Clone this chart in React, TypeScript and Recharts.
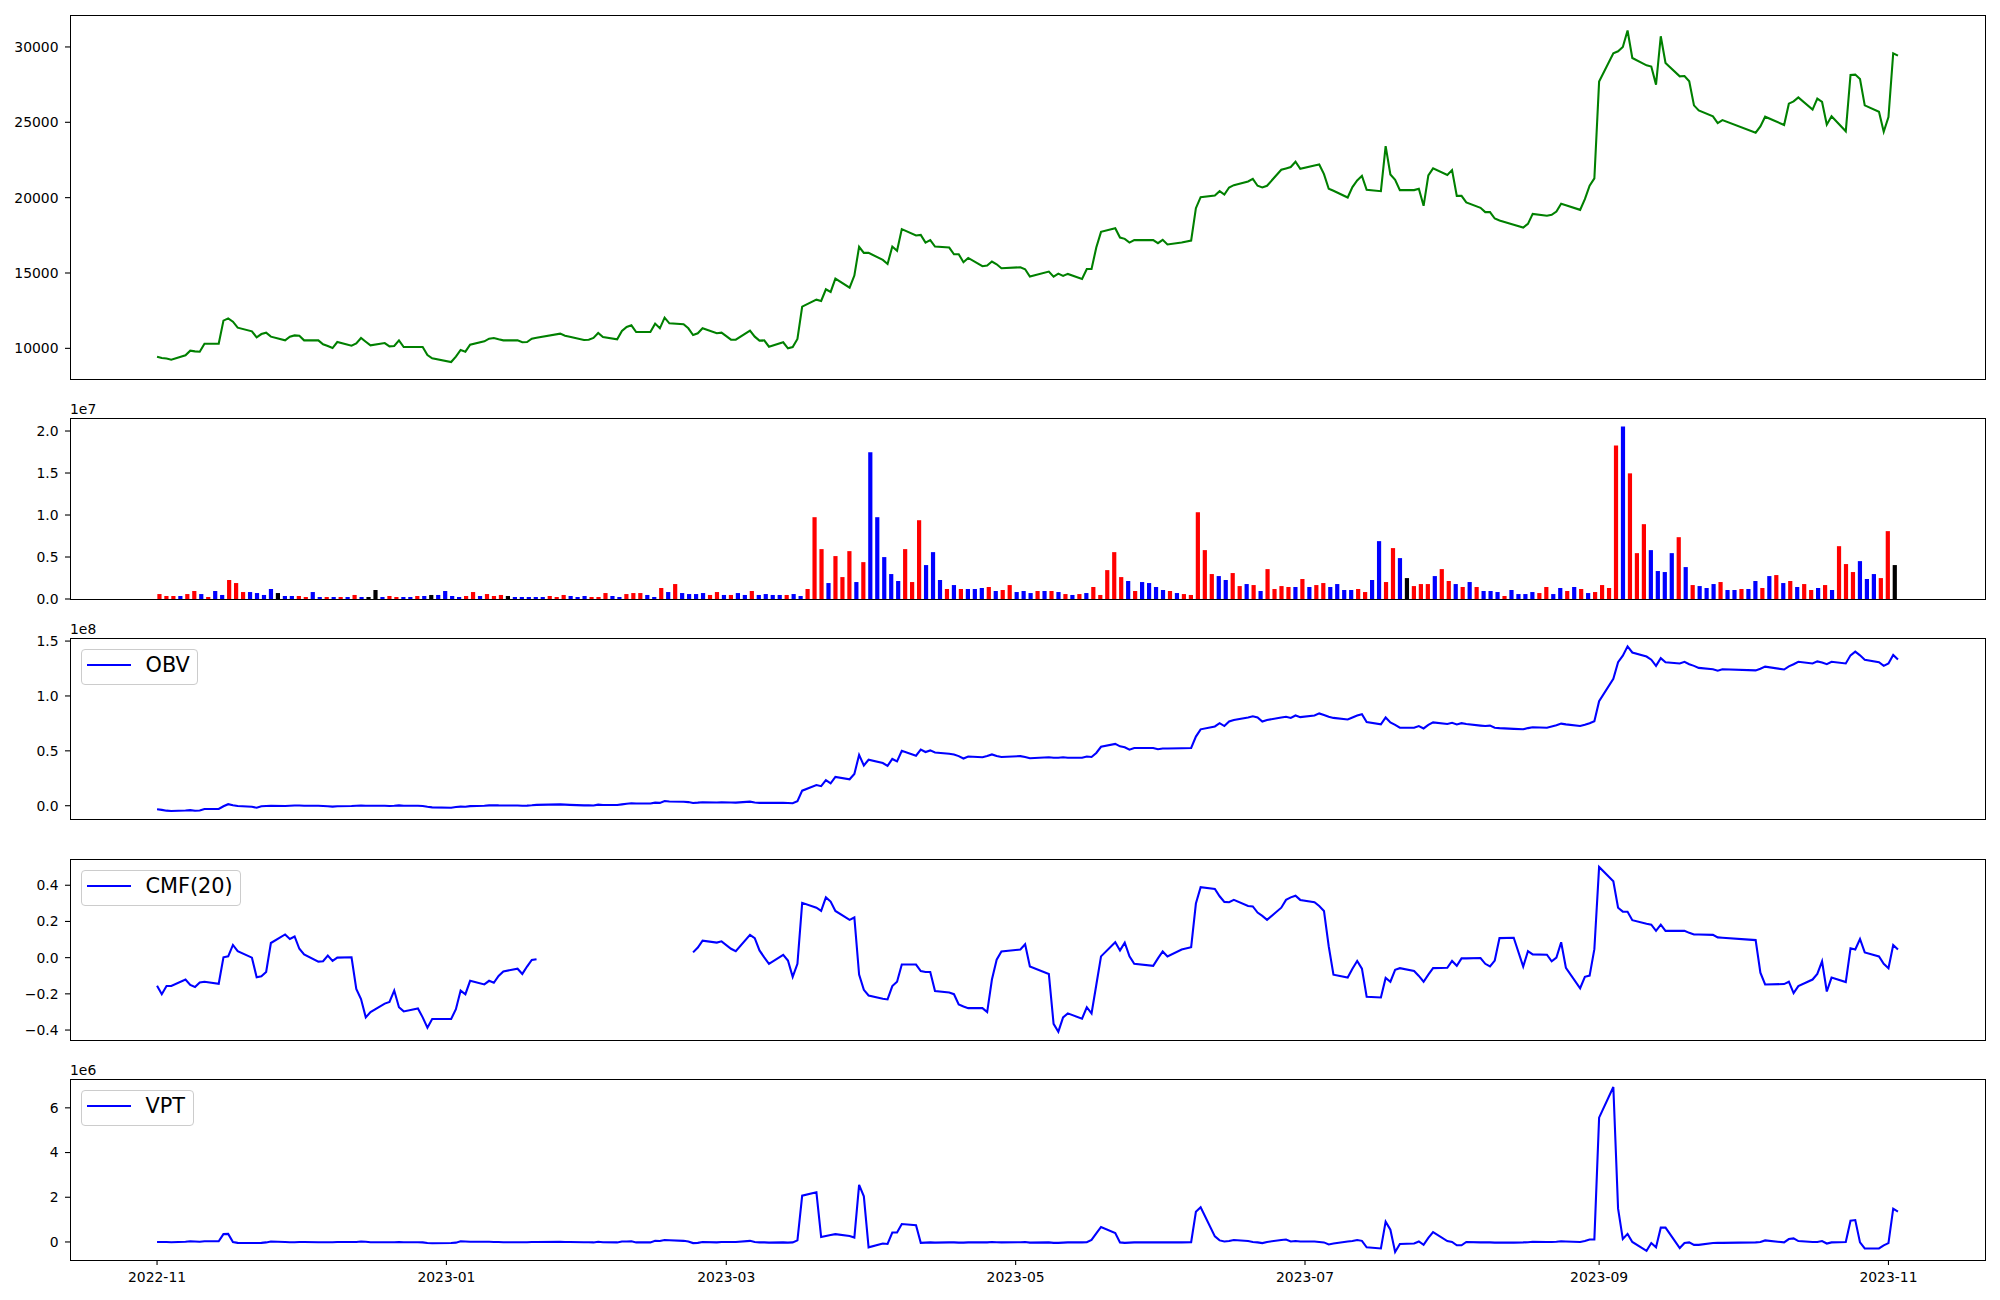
import { Bar, Cell, ComposedChart, Line, LineChart, XAxis, YAxis } from "recharts";

// trading calendar: weekdays from 2022-11-01 minus exchange holidays
const START = Date.UTC(2022, 10, 1);
const DAY_MS = 86400000;
const LAST_DAY = 367;
const HOLIDAYS = [
  "2022-12-30", "2023-01-23", "2023-01-24", "2023-03-01", "2023-05-01", "2023-05-05", "2023-05-29",
  "2023-06-06", "2023-08-15", "2023-09-28", "2023-09-29", "2023-10-02", "2023-10-03", "2023-10-09",
];
const MONTH_TICKS = ["2022-11", "2023-01", "2023-03", "2023-05", "2023-07", "2023-09", "2023-11"];

const PRICE = [
  9446, 9360, 9330, 9250, 9535, 9845, 9800, 9780, 10310, 10310,
  11840, 11990, 11770, 11370, 11130, 10730, 10950, 11040, 10775, 10530,
  10775, 10860, 10840, 10530, 10530, 10265, 10155, 10020, 10420, 10180,
  10330, 10690, 10440, 10200, 10350, 10130, 10155, 10530, 10090, 10090,
  10090, 9560, 9335, 9090, 9445, 9890, 9780, 10245, 10465, 10640,
  10690, 10600, 10530, 10530, 10400, 10420, 10640, 10710, 10975, 10840,
  10775, 10550, 10575, 10690, 11020, 10750, 10600, 11150, 11420, 11530,
  11085, 11085, 11640, 11330, 12040, 11660, 11600, 11330, 10885, 11000,
  11330, 11000, 11040, 10575, 10575, 11175, 10775, 10510, 10530, 10110,
  10400, 10000, 10090, 10620, 12770, 13230, 13145, 13920, 13745, 14630,
  14030, 14830, 16735, 16335, 16335, 15870, 15600, 16755, 16470, 17910,
  17490, 17530, 17020, 17180, 16755, 16690, 16245, 16245, 15715, 16000,
  15450, 15495, 15760, 15580, 15315, 15380, 15250, 14760, 15095, 14760,
  14960, 14805, 14940, 14610, 15270, 15270, 16690, 17730, 17975, 17355,
  17265, 17020, 17180, 17180, 16980, 17200, 16890, 17020, 17155, 19300,
  20035, 20145, 20430, 20210, 20675, 20830, 21075, 21250, 20790, 20675,
  20790, 21850, 21940, 22030, 22380, 21915, 22140, 22205, 21560, 20590,
  20455, 20010, 20700, 21140, 21450, 20520, 20430, 23420, 21540, 21185,
  20500, 20500, 20590, 19460, 21475, 21940, 21500, 21830, 20120, 20120,
  19680, 19325, 19040, 19040, 18615, 18480, 18195, 18020, 18260, 18925,
  18795, 18860, 19080, 19590, 19500, 19190, 19900, 20790, 21275, 27700,
  29580, 29715, 30000, 31090, 29270, 28780, 28700, 27500, 30710, 28940,
  28050, 28075, 27720, 26125, 25790, 25395, 24950, 25150, 24310, 24730,
  25370, 24820, 26235, 26390, 26655, 25840, 26570, 26350, 24840, 25395,
  24400, 28140, 28165, 27875, 26125, 25700, 24375, 25350, 29580, 29425,
];

// volume in units of 1e7
const VOLUME = [
  0.059, 0.036, 0.036, 0.036, 0.059, 0.095, 0.059, 0.024, 0.095, 0.048,
  0.226, 0.19, 0.083, 0.083, 0.071, 0.048, 0.119, 0.071, 0.036, 0.036,
  0.036, 0.024, 0.083, 0.024, 0.024, 0.024, 0.024, 0.024, 0.048, 0.024,
  0.024, 0.107, 0.024, 0.036, 0.024, 0.024, 0.024, 0.036, 0.036, 0.048,
  0.048, 0.095, 0.036, 0.024, 0.036, 0.083, 0.036, 0.059, 0.036, 0.048,
  0.036, 0.024, 0.024, 0.024, 0.024, 0.024, 0.036, 0.024, 0.048, 0.036,
  0.024, 0.036, 0.024, 0.024, 0.071, 0.036, 0.024, 0.059, 0.071, 0.071,
  0.048, 0.024, 0.131, 0.083, 0.178, 0.071, 0.059, 0.059, 0.071, 0.048,
  0.083, 0.048, 0.048, 0.071, 0.048, 0.095, 0.048, 0.059, 0.048, 0.048,
  0.048, 0.059, 0.036, 0.119, 0.974, 0.594, 0.19, 0.511, 0.261, 0.57,
  0.202, 0.439, 1.746, 0.974, 0.499, 0.297, 0.214, 0.594, 0.202, 0.938,
  0.404, 0.558, 0.226, 0.119, 0.166, 0.119, 0.119, 0.119, 0.131, 0.143,
  0.095, 0.107, 0.166, 0.083, 0.095, 0.071, 0.095, 0.095, 0.095, 0.083,
  0.059, 0.048, 0.059, 0.071, 0.143, 0.048, 0.344, 0.558, 0.261, 0.214,
  0.095, 0.202, 0.19, 0.143, 0.107, 0.095, 0.071, 0.059, 0.048, 1.033,
  0.582, 0.297, 0.273, 0.226, 0.309, 0.154, 0.178, 0.166, 0.095, 0.356,
  0.119, 0.154, 0.143, 0.143, 0.238, 0.143, 0.166, 0.19, 0.143, 0.178,
  0.107, 0.107, 0.119, 0.083, 0.226, 0.689, 0.202, 0.606, 0.487, 0.249,
  0.154, 0.178, 0.178, 0.273, 0.356, 0.214, 0.178, 0.143, 0.202, 0.143,
  0.095, 0.095, 0.083, 0.036, 0.107, 0.059, 0.059, 0.083, 0.071, 0.143,
  0.059, 0.131, 0.095, 0.143, 0.119, 0.071, 0.083, 0.166, 0.131, 1.829,
  2.055, 1.496, 0.546, 0.891, 0.582, 0.333, 0.321, 0.546, 0.736, 0.38,
  0.166, 0.154, 0.131, 0.178, 0.202, 0.107, 0.107, 0.119, 0.119, 0.214,
  0.131, 0.273, 0.285, 0.19, 0.214, 0.143, 0.178, 0.107, 0.131, 0.166,
  0.107, 0.629, 0.416, 0.321, 0.451, 0.238, 0.297, 0.249, 0.808, 0.404,
];

// r = up, b = down, k = unchanged
const VOL_COLOR = [
  "rrrbrrbrbb", "rrrbbbbkbb", "rrbbrbrbrb", "kkbrrbbrbk", "bbbbrrbrrr",
  "kbbbbbrrrb", "bbrrrbbrrr", "bbrbrbbbbr", "rbrbbrbbbb", "rbbrrrbrrr",
  "brbbbbbrrr", "bbbrbrbbbr", "brrbbbrbrb", "rbrbrrrrrb", "rbbbbrbrrr",
  "rrbbrrbrbr", "rrrbrbrrbb", "bbrrbbrrbk", "rrrbrrbrbr", "bbbrbbbbrr",
  "bbrbrbrrrr", "brrrbbbbrb", "rbbbrbbrbb", "rbrbrbrrbr", "brrrbbbrrk",
].join("");

// OBV in units of 1e8
const OBV = [
  -0.033, -0.038, -0.045, -0.048, -0.044, -0.04, -0.046, -0.044, -0.03, -0.03,
  -0.005, 0.014, 0.005, -0.003, -0.01, -0.018, -0.005, -0.002, 0.0, -0.002,
  0.0, 0.002, 0.002, 0.0, 0.0, -0.002, -0.005, -0.008, -0.005, -0.003,
  0.0, 0.002, 0.0, 0.0, 0.0, -0.002, 0.0, 0.003, 0.0, 0.0,
  -0.003, -0.01, -0.015, -0.018, -0.012, -0.008, -0.01, -0.004, 0.0, 0.003,
  0.005, 0.003, 0.002, 0.002, 0.0, 0.001, 0.004, 0.008, 0.012, 0.01,
  0.008, 0.003, 0.004, 0.002, 0.01, 0.007, 0.006, 0.012, 0.018, 0.022,
  0.02, 0.02, 0.028, 0.026, 0.043, 0.038, 0.036, 0.033, 0.025, 0.028,
  0.032, 0.03, 0.031, 0.03, 0.028, 0.037, 0.03, 0.026, 0.026, 0.026,
  0.026, 0.024, 0.022, 0.041, 0.137, 0.189, 0.178, 0.233, 0.204, 0.263,
  0.241, 0.289, 0.463, 0.367, 0.419, 0.389, 0.363, 0.426, 0.404, 0.5,
  0.456, 0.511, 0.489, 0.504, 0.485, 0.474, 0.467, 0.452, 0.43, 0.448,
  0.441, 0.452, 0.467, 0.452, 0.444, 0.452, 0.444, 0.433, 0.441, 0.437,
  0.437, 0.441, 0.437, 0.437, 0.448, 0.444, 0.481, 0.537, 0.563, 0.541,
  0.533, 0.511, 0.526, 0.526, 0.515, 0.522, 0.522, 0.524, 0.526, 0.63,
  0.696, 0.722, 0.752, 0.726, 0.767, 0.781, 0.804, 0.815, 0.804, 0.767,
  0.781, 0.804, 0.811, 0.8, 0.822, 0.807, 0.822, 0.841, 0.826, 0.811,
  0.8, 0.785, 0.804, 0.822, 0.833, 0.763, 0.741, 0.804, 0.759, 0.737,
  0.711, 0.711, 0.726, 0.704, 0.737, 0.759, 0.744, 0.756, 0.741, 0.752,
  0.744, 0.73, 0.726, 0.73, 0.711, 0.707, 0.7, 0.696, 0.707, 0.715,
  0.711, 0.722, 0.733, 0.748, 0.741, 0.726, 0.737, 0.752, 0.77, 0.952,
  1.156, 1.307, 1.367, 1.452, 1.396, 1.359, 1.33, 1.274, 1.344, 1.307,
  1.296, 1.311, 1.289, 1.274, 1.256, 1.244, 1.23, 1.244, 1.233, 1.248,
  1.267, 1.241, 1.27, 1.289, 1.311, 1.296, 1.315, 1.304, 1.289, 1.311,
  1.296, 1.37, 1.404, 1.37, 1.33, 1.307, 1.274, 1.296, 1.374, 1.333,
];

const CMF = [
  -0.155, -0.202, -0.157, -0.157, -0.121, -0.151, -0.162, -0.137, -0.133, -0.144,
  0.002, 0.007, 0.07, 0.036, 0.0, -0.108, -0.103, -0.079, 0.081, 0.128,
  0.103, 0.117, 0.049, 0.018, -0.022, -0.02, 0.011, -0.018, 0.0, 0.002,
  -0.173, -0.229, -0.33, -0.301, -0.254, -0.245, -0.182, -0.274, -0.297, -0.281,
  -0.33, -0.387, -0.339, -0.339, -0.285, -0.182, -0.202, -0.128, -0.148, -0.128,
  -0.139, -0.101, -0.076, -0.061, -0.09, -0.049, -0.013, -0.009, null, null,
  null, null, null, null, null, null, null, null, null, null,
  null, null, null, null, null, null, null, null, 0.029, 0.056,
  0.094, 0.083, 0.09, 0.049, 0.036, 0.126, 0.108, 0.04, 0.002, -0.034,
  0.016, -0.016, -0.106, -0.034, 0.303, 0.276, 0.258, 0.333, 0.31, 0.258,
  0.209, 0.222, -0.094, -0.178, -0.209, -0.227, -0.231, -0.157, -0.133, -0.038,
  -0.038, -0.074, -0.079, -0.079, -0.184, -0.193, -0.202, -0.258, -0.27, -0.279,
  -0.279, -0.301, -0.121, -0.011, 0.034, 0.045, 0.074, -0.049, -0.09, -0.366,
  -0.409, -0.33, -0.308, -0.337, -0.274, -0.308, -0.151, 0.007, 0.085, 0.04,
  0.083, 0.007, -0.034, -0.045, -0.004, 0.034, 0.007, 0.045, 0.058, 0.299,
  0.389, 0.38, 0.339, 0.308, 0.306, 0.319, 0.285, 0.283, 0.249, 0.231,
  0.209, 0.276, 0.319, 0.333, 0.342, 0.319, 0.306, 0.285, 0.258, 0.063,
  -0.094, -0.11, -0.061, -0.018, -0.061, -0.216, -0.22, -0.112, -0.133, -0.067,
  -0.058, -0.074, -0.101, -0.133, -0.094, -0.058, -0.056, -0.018, -0.045, -0.004,
  -0.004, -0.002, -0.034, -0.049, -0.016, 0.108, 0.11, -0.049, 0.036, 0.018,
  0.016, -0.02, 0.0, 0.085, -0.056, -0.169, -0.106, -0.099, 0.047, 0.501,
  0.422, 0.276, 0.254, 0.254, 0.207, 0.187, 0.182, 0.148, 0.182, 0.148,
  0.148, 0.148, 0.137, 0.128, 0.128, 0.126, 0.112, 0.11, 0.097, -0.083,
  -0.148, -0.146, -0.133, -0.196, -0.157, -0.121, -0.09, -0.02, -0.187, -0.11,
  -0.135, 0.052, 0.045, 0.103, 0.029, 0.007, -0.034, -0.058, 0.07, 0.045,
];

// VPT in units of 1e6
const VPT = [
  0, 0, 0, -0.01, 0.01, 0.03, 0.02, 0.01, 0.03, 0.03,
  0.35, 0.36, 0, -0.04, -0.05, -0.05, -0.04, -0.02, 0.02, 0,
  -0.01, -0.01, 0, 0, -0.01, -0.01, -0.01, -0.01, 0, 0,
  0, 0.02, 0.01, -0.01, -0.01, -0.01, -0.01, 0, -0.01, -0.01,
  -0.02, -0.05, -0.06, -0.05, -0.03, 0.03, 0.02, 0.01, 0.01, 0.01,
  0, 0, -0.01, -0.01, -0.01, -0.01, 0, 0, 0.01, 0,
  0, -0.01, -0.01, -0.02, 0.01, -0.01, -0.02, 0.02, 0.02, 0.03,
  -0.02, -0.02, 0.05, 0.04, 0.09, 0.08, 0.05, 0.02, -0.05, -0.04,
  0, -0.02, 0, 0, 0, 0.05, 0, -0.02, -0.02, -0.03,
  -0.02, -0.03, -0.02, 0.07, 2.07, 2.22, 0.22, 0.27, 0.31, 0.35,
  0.27, 0.2, 2.55, 2.04, -0.24, -0.07, -0.09, 0.42, 0.42, 0.8,
  0.75, -0.04, -0.03, -0.02, -0.03, -0.02, -0.02, -0.03, -0.03, -0.02,
  -0.02, -0.02, 0, -0.01, -0.02, -0.01, 0, -0.03, -0.02, -0.04,
  -0.04, -0.03, -0.02, -0.02, -0.01, 0.09, 0.38, 0.67, 0.4, -0.02,
  -0.04, -0.03, -0.02, -0.02, -0.02, -0.01, -0.02, -0.02, -0.01, 1.35,
  1.55, 0.25, 0.07, 0.02, 0.04, 0.09, 0.04, 0, -0.02, -0.05,
  0, 0.09, 0.11, 0.02, 0.04, 0.02, 0.02, 0, -0.02, -0.11,
  -0.07, 0.02, 0.04, 0.09, 0.05, -0.24, -0.29, 0.91, 0.55, -0.45,
  -0.09, -0.07, 0.02, -0.13, 0.18, 0.44, 0.04, 0, -0.15, -0.15,
  0, -0.02, -0.02, -0.02, -0.03, -0.03, -0.03, -0.02, -0.01, 0.01,
  0, 0, 0.01, 0.03, 0.02, 0, 0.04, 0.11, 0.11, 5.56,
  6.93, 1.49, 0.13, 0.36, 0, -0.4, -0.05, -0.24, 0.64, 0.64,
  -0.27, -0.05, -0.02, -0.13, -0.13, -0.05, -0.04, -0.04, -0.02, 0,
  0.07, -0.02, 0.13, 0.16, 0.04, 0, 0, 0.04, -0.07, -0.02,
  0, 0.95, 0.98, -0.02, -0.29, -0.29, -0.15, -0.05, 1.49, 1.36,
];

function tradingDays(): number[] {
  const out: number[] = [];
  for (let d = 0; d <= LAST_DAY; d++) {
    const dt = new Date(START + d * DAY_MS);
    const wd = dt.getUTCDay();
    if (wd === 0 || wd === 6) continue;
    if (HOLIDAYS.includes(dt.toISOString().slice(0, 10))) continue;
    out.push(d);
  }
  return out;
}

const DAYS = tradingDays();
const ROWS = DAYS.map((t, i) => ({ t, price: PRICE[i], obv: OBV[i], cmf: CMF[i], vpt: VPT[i] }));
const VOL_ROWS = VOLUME.map((v, i) => ({ i, v, c: VOL_COLOR[i] }));
const BAR_FILL: Record<string, string> = { r: "#ff0000", b: "#0000ff", k: "#000000" };

const MONTH_POS = MONTH_TICKS.map((m) => {
  const [y, mo] = m.split("-").map(Number);
  return (Date.UTC(y, mo - 1, 1) - START) / DAY_MS;
});

// matplotlib-like 5% margins
const X_DOMAIN: [number, number] = [-0.05 * LAST_DAY, LAST_DAY * 1.05];
const N = VOLUME.length;
const BAR_DOMAIN: [number, number] = [-0.4 - 0.05 * (N - 0.2), N - 0.6 + 0.05 * (N - 0.2)];

const FIG_W = 2000;
const PLOT_L = 70;
const PLOT_R = 1985;
const PAD = 10;
const FONT = "DejaVu Sans";
const TICK = { fontSize: 13.9, fill: "#000", fontFamily: FONT };
const TICK_LINE = { stroke: "#000", strokeWidth: 1.1 };

const minus = (s: string) => s.replace("-", "\u2212");

function Frame({ top, height }: { top: number; height: number }) {
  return (
    <div
      style={{
        position: "absolute",
        left: PLOT_L - 0.5,
        top: top - 0.5,
        width: PLOT_R - PLOT_L + 1,
        height: height + 1,
        border: "1.1px solid #000",
        boxSizing: "border-box",
        pointerEvents: "none",
      }}
    />
  );
}

function OffsetText({ top, text }: { top: number; text: string }) {
  return (
    <div style={{ position: "absolute", left: PLOT_L, top: top - 17.5, fontSize: 13.9, lineHeight: "normal" }}>
      {text}
    </div>
  );
}

function LegendBox({ top, label }: { top: number; label: string }) {
  return (
    <div
      style={{
        position: "absolute",
        left: PLOT_L + 10.5,
        top: top + 11,
        height: 36,
        boxSizing: "border-box",
        border: "1px solid #cccccc",
        borderRadius: 4,
        background: "rgba(255,255,255,0.8)",
        display: "flex",
        alignItems: "center",
        padding: "0 7.7px 4px 5.5px",
        fontSize: 20.83,
      }}
    >
      <span style={{ display: "inline-block", width: 43.7, height: 2.1, background: "#0000ff", marginRight: 14.8 }} />
      <span style={{ lineHeight: "normal" }}>{label}</span>
    </div>
  );
}

interface LinePanelProps {
  top: number;
  height: number;
  dataKey: string;
  color: string;
  domain: [number, number];
  ticks: number[];
  fmt: (v: number) => string;
  showX?: boolean;
}

function LinePanel({ top, height, dataKey, color, domain, ticks, fmt, showX }: LinePanelProps) {
  const xAxisH = 40;
  const chartH = height + PAD + (showX ? xAxisH : PAD);
  return (
    <div style={{ position: "absolute", left: 0, top: top - PAD }}>
      <LineChart
        width={FIG_W}
        height={chartH}
        data={ROWS}
        margin={{ top: PAD, right: FIG_W - PLOT_R, bottom: showX ? 0 : PAD, left: 0 }}
      >
        <XAxis
          type="number"
          dataKey="t"
          domain={X_DOMAIN}
          allowDataOverflow
          ticks={MONTH_POS}
          interval={0}
          hide={!showX}
          height={xAxisH}
          axisLine={false}
          tickLine={TICK_LINE}
          tickSize={5}
          tickMargin={7}
          tick={TICK}
          tickFormatter={(v: number) => MONTH_TICKS[MONTH_POS.indexOf(v)] ?? ""}
        />
        <YAxis
          type="number"
          width={PLOT_L}
          domain={domain}
          allowDataOverflow
          ticks={ticks}
          interval={0}
          axisLine={false}
          tickLine={TICK_LINE}
          tickSize={5}
          tickMargin={6.5}
          tick={TICK}
          tickFormatter={fmt}
        />
        <Line
          type="linear"
          dataKey={dataKey}
          stroke={color}
          strokeWidth={2.08}
          dot={false}
          isAnimationActive={false}
        />
      </LineChart>
      <Frame top={PAD} height={height} />
    </div>
  );
}

function VolumePanel({ top, height }: { top: number; height: number }) {
  return (
    <div style={{ position: "absolute", left: 0, top: top - PAD }}>
      <ComposedChart
        width={FIG_W}
        height={height + 2 * PAD}
        data={VOL_ROWS}
        margin={{ top: PAD, right: FIG_W - PLOT_R, bottom: PAD, left: 0 }}
      >
        <XAxis type="number" dataKey="i" domain={BAR_DOMAIN} allowDataOverflow hide />
        <YAxis
          type="number"
          width={PLOT_L}
          domain={[0, 2.155]}
          allowDataOverflow
          ticks={[0, 0.5, 1, 1.5, 2]}
          interval={0}
          axisLine={false}
          tickLine={TICK_LINE}
          tickSize={5}
          tickMargin={6.5}
          tick={TICK}
          tickFormatter={(v: number) => v.toFixed(1)}
        />
        <Bar dataKey="v" barSize={4.2} isAnimationActive={false}>
          {VOL_ROWS.map((r) => (
            <Cell key={r.i} fill={BAR_FILL[r.c]} />
          ))}
        </Bar>
      </ComposedChart>
      <Frame top={PAD} height={height} />
    </div>
  );
}

export default function App() {
  return (
    <div
      style={{
        position: "absolute",
        left: 0,
        top: 0,
        width: FIG_W,
        height: 1300,
        background: "#fff",
        fontFamily: FONT,
        color: "#000",
        overflow: "hidden",
      }}
    >
      <LinePanel
        top={15}
        height={364}
        dataKey="price"
        color="#008000"
        domain={[7966, 32120]}
        ticks={[10000, 15000, 20000, 25000, 30000]}
        fmt={(v) => String(v)}
      />

      <VolumePanel top={418} height={181} />
      <OffsetText top={418} text="1e7" />

      <LinePanel
        top={638}
        height={181}
        dataKey="obv"
        color="#0000ff"
        domain={[-0.121, 1.528]}
        ticks={[0, 0.5, 1, 1.5]}
        fmt={(v) => v.toFixed(1)}
      />
      <OffsetText top={638} text="1e8" />
      <LegendBox top={638} label="OBV" />

      <LinePanel
        top={859}
        height={181}
        dataKey="cmf"
        color="#0000ff"
        domain={[-0.455, 0.545]}
        ticks={[-0.4, -0.2, 0, 0.2, 0.4]}
        fmt={(v) => minus(v.toFixed(1))}
      />
      <LegendBox top={859} label="CMF(20)" />

      <LinePanel
        top={1079}
        height={181}
        dataKey="vpt"
        color="#0000ff"
        domain={[-0.807, 7.29]}
        ticks={[0, 2, 4, 6]}
        fmt={(v) => String(v)}
        showX
      />
      <OffsetText top={1079} text="1e6" />
      <LegendBox top={1079} label="VPT" />
    </div>
  );
}
